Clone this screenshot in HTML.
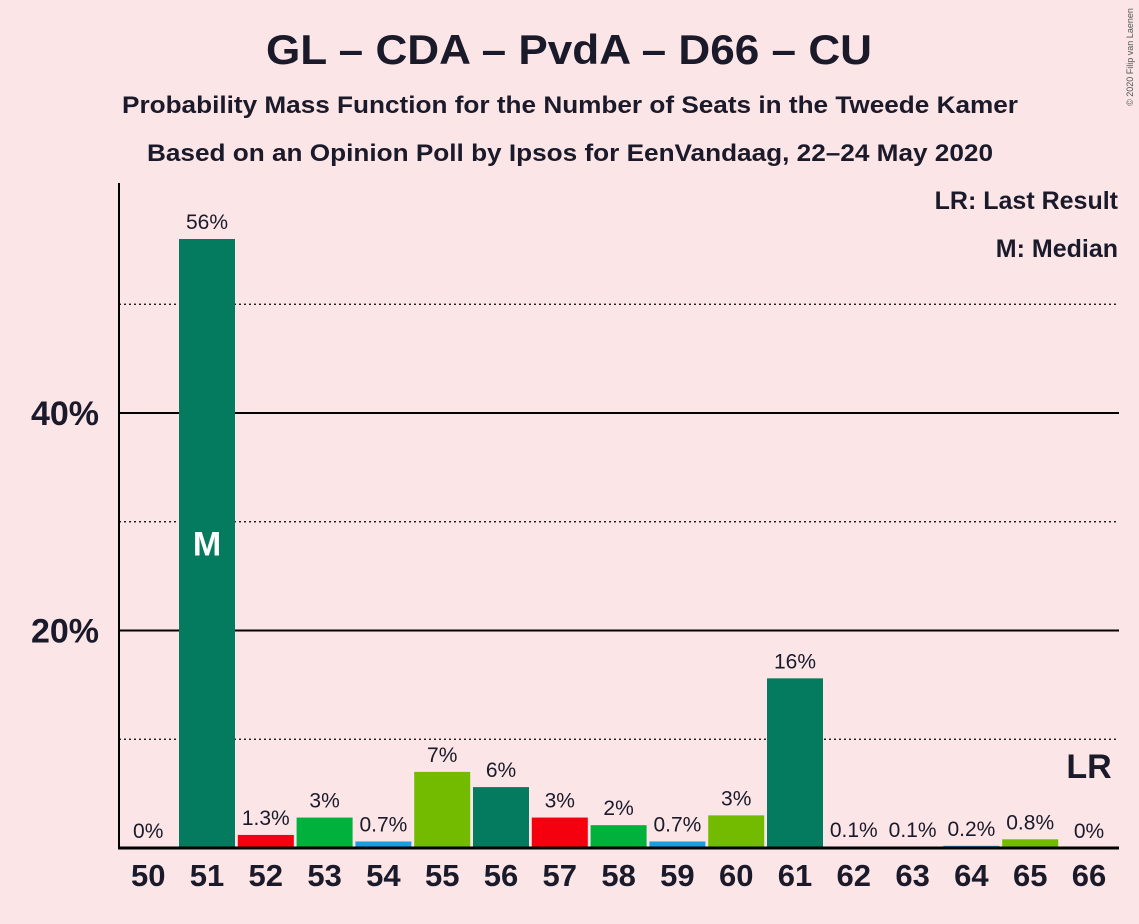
<!DOCTYPE html>
<html><head><meta charset="utf-8"><style>
body{margin:0;background:#fbe5e7;font-family:"Liberation Sans",sans-serif}
svg{display:block}
</style></head><body>
<svg id="chart" width="1139" height="924" font-family="Liberation Sans, sans-serif">
<rect width="1139" height="924" fill="#fbe5e7"/>
<text x="569" y="64" text-anchor="middle" font-size="42" font-weight="bold" fill="#1a1a2a" textLength="606" lengthAdjust="spacingAndGlyphs">GL – CDA – PvdA – D66 – CU</text>
<text x="570" y="113" text-anchor="middle" font-size="24" font-weight="bold" fill="#1a1a2a" textLength="896" lengthAdjust="spacingAndGlyphs">Probability Mass Function for the Number of Seats in the Tweede Kamer</text>
<text x="570" y="161" text-anchor="middle" font-size="24" font-weight="bold" fill="#1a1a2a" textLength="846" lengthAdjust="spacingAndGlyphs">Based on an Opinion Poll by Ipsos for EenVandaag, 22–24 May 2020</text>
<text x="1133" y="57" font-size="9" fill="#555" transform="rotate(-90 1133 57)" text-anchor="middle">© 2020 Filip van Laenen</text>
<text x="1118" y="209" text-anchor="end" font-size="25" font-weight="bold" fill="#1a1a2a">LR: Last Result</text>
<text x="1118" y="257" text-anchor="end" font-size="25" font-weight="bold" fill="#1a1a2a">M: Median</text>
<g id="grid"></g><g id="bars"></g><g id="labels"></g>
</svg>
<script>
const seats=[50,51,52,53,54,55,56,57,58,59,60,61,62,63,64,65,66];
const probs=[0,56,1.2,2.8,0.6,7.0,5.6,2.8,2.1,0.6,3.0,15.6,0.1,0.1,0.2,0.8,0];
const valueLabels=["0%","56%","1.3%","3%","0.7%","7%","6%","3%","2%","0.7%","3%","16%","0.1%","0.1%","0.2%","0.8%","0%"];
const parties=["","CDA","PvdA","GL2","D66","GL","CDA","PvdA","GL2","D66","GL","CDA","","","D66","GL",""];
const yTicks=[20,40];
const yDotted=[10,30,50];
const colors={CDA:"#047b5e",PvdA:"#f5000f",GL2:"#00b13c",D66:"#1b9ee0",GL:"#73bb00","":"#000"};
const medianSeat=51, lastResultSeat=66;
const ns="http://www.w3.org/2000/svg";
const y=v=>848-v*10.875;
const x=s=>207+(s-51)*58.8;
function mk(t,a,p){const e=document.createElementNS(ns,t);for(const k in a)e.setAttribute(k,a[k]);p.appendChild(e);return e;}
const grid=document.getElementById('grid'),bars=document.getElementById('bars'),labels=document.getElementById('labels');
yDotted.forEach(v=>{const l=mk('line',{x1:119,x2:1119,y1:y(v),y2:y(v),stroke:'#000','stroke-width':1.3,'stroke-dasharray':'2,3'},grid);

});
yTicks.forEach(v=>{const l=mk('line',{x1:119,x2:1119,y1:y(v),y2:y(v),stroke:'#000','stroke-width':2},grid);


const t=mk('text',{x:99,y:y(v)+12,'text-anchor':'end','font-size':34,'font-weight':'bold',fill:'#1a1a2a'},grid);t.textContent=v+'%';

});
seats.forEach((s,i)=>{
 if(probs[i]>0){const r=mk('rect',{x:x(s)-28,y:y(probs[i]),width:56,height:848-y(probs[i]),fill:colors[parties[i]]},bars);
 
 }
 const vl=mk('text',{x:x(s),y:y(probs[i])-10,'text-anchor':'middle','font-size':21,fill:'#1a1a2a'},labels);vl.textContent=valueLabels[i];
 
 
 const xl=mk('text',{x:x(s),y:886,'text-anchor':'middle','font-size':31,'font-weight':'bold',fill:'#1a1a2a'},labels);xl.textContent=s;
 
 
});
const mi=seats.indexOf(medianSeat);
const m=mk('text',{x:x(medianSeat),y:y(probs[mi]/2)+12,'text-anchor':'middle','font-size':34,'font-weight':'bold',fill:'#fff'},labels);m.textContent='M';


const lr=mk('text',{x:x(lastResultSeat),y:778,'text-anchor':'middle','font-size':34,'font-weight':'bold',fill:'#1a1a2a'},labels);lr.textContent='LR';


const ya=mk('line',{x1:119,x2:119,y1:183,y2:849,stroke:'#000','stroke-width':2},labels);


const xa=mk('line',{x1:118,x2:1119,y1:848,y2:848,stroke:'#000','stroke-width':3},labels);


</script>
</body></html>
